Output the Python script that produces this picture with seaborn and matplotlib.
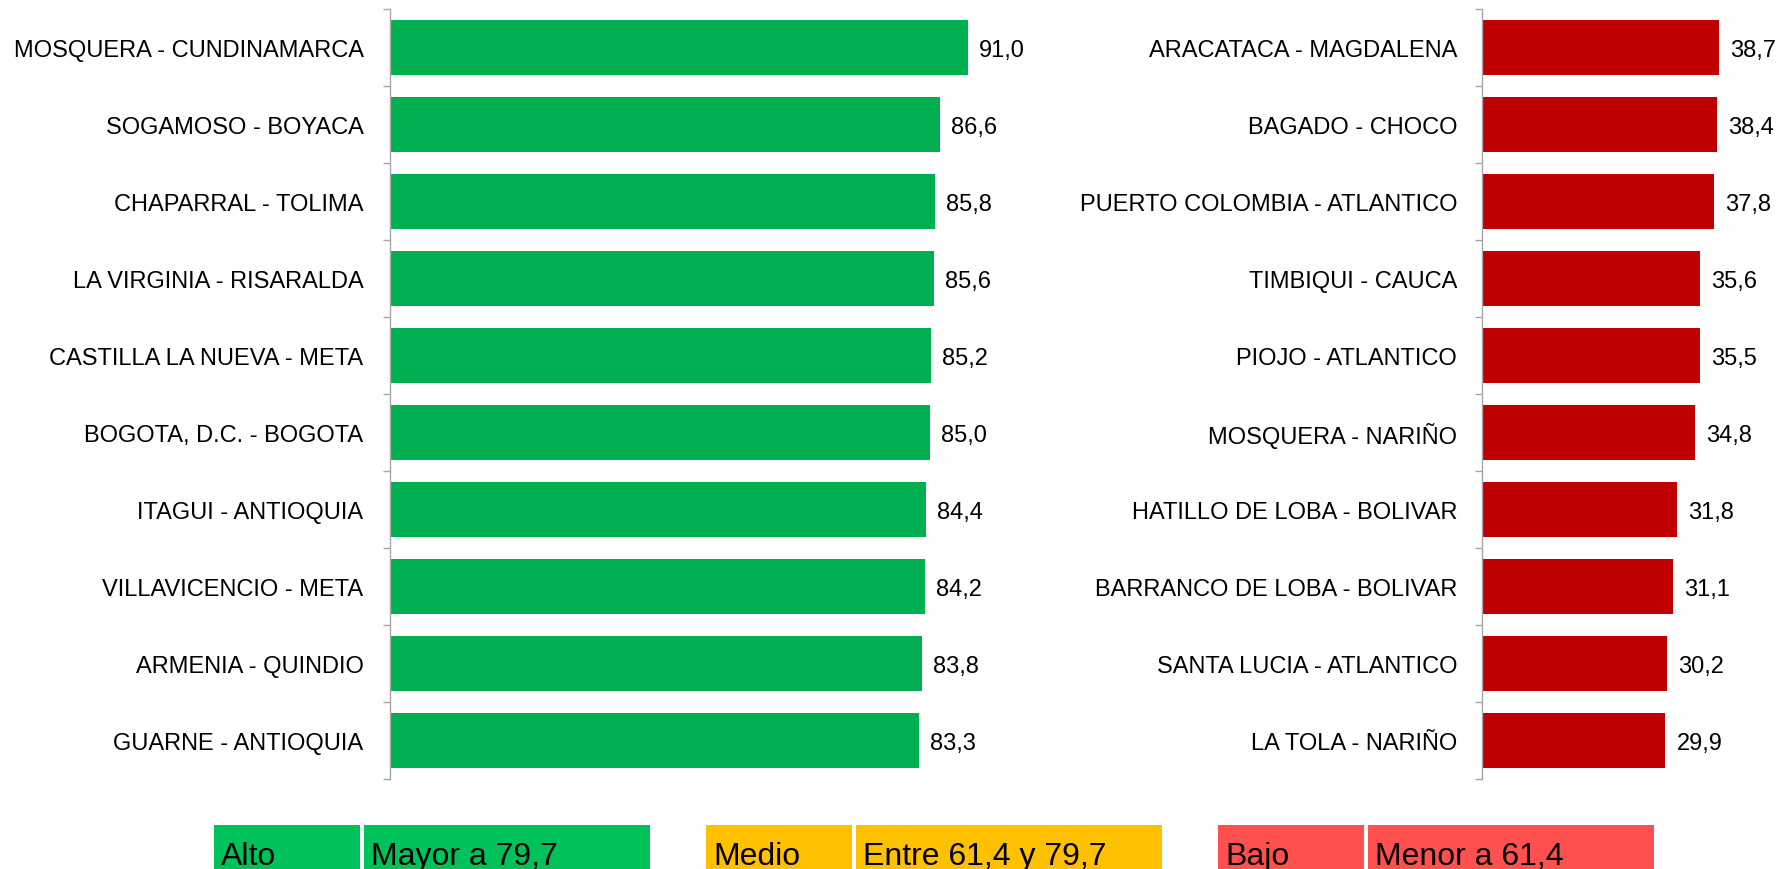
import matplotlib
matplotlib.use("Agg")
import matplotlib.pyplot as plt
import matplotlib.patches as mpatches
import seaborn as sns
import pandas as pd

# datos: municipios con mayor y menor puntaje
altos = ['MOSQUERA - CUNDINAMARCA', 'SOGAMOSO - BOYACA', 'CHAPARRAL - TOLIMA',
         'LA VIRGINIA - RISARALDA', 'CASTILLA LA NUEVA - META', 'BOGOTA, D.C. - BOGOTA',
         'ITAGUI - ANTIOQUIA', 'VILLAVICENCIO - META', 'ARMENIA - QUINDIO',
         'GUARNE - ANTIOQUIA']
valores_altos = [91.0, 86.6, 85.8, 85.6, 85.2, 85.0, 84.4, 84.2, 83.8, 83.3]

bajos = ['ARACATACA - MAGDALENA', 'BAGADO - CHOCO', 'PUERTO COLOMBIA - ATLANTICO',
         'TIMBIQUI - CAUCA', 'PIOJO - ATLANTICO', 'MOSQUERA - NARIÑO',
         'HATILLO DE LOBA - BOLIVAR', 'BARRANCO DE LOBA - BOLIVAR',
         'SANTA LUCIA - ATLANTICO', 'LA TOLA - NARIÑO']
valores_bajos = [38.7, 38.4, 37.8, 35.6, 35.5, 34.8, 31.8, 31.1, 30.2, 29.9]

niveles = ['Alto', 'Medio', 'Bajo']
rangos = ['Mayor a 79,7', 'Entre 61,4 y 79,7', 'Menor a 61,4']
colores_nivel = ['#00C25A', '#FFC000', '#FF5050']

df_alto = pd.DataFrame({'municipio': altos, 'valor': valores_altos})
df_bajo = pd.DataFrame({'municipio': bajos, 'valor': valores_bajos})

sns.set_style('white')
plt.rcParams['font.family'] = ['Liberation Sans', 'DejaVu Sans']
plt.rcParams['text.color'] = 'black'
plt.rcParams['ytick.color'] = 'black'

W, H = 1785, 870
fig = plt.figure(figsize=(W / 100, H / 100), dpi=100)

ax1 = fig.add_axes([390 / W, 1 - 780 / H, 100 * 6.35 / W, 770 / H])
ax2 = fig.add_axes([1482 / W, 1 - 780 / H, 45 * 6.13 / W, 770 / H])


def dibujar(ax, df, color, xmax, pad):
    sns.barplot(data=df, x='valor', y='municipio', orient='h', color=color,
                width=0.72, saturation=1, edgecolor='none', ax=ax)
    ax.set_xlim(0, xmax)
    ax.set_ylim(len(df) - 0.5, -0.5)
    ax.set_xlabel('')
    ax.set_ylabel('')
    ax.set_xticks([])
    for s in ['top', 'right', 'bottom']:
        ax.spines[s].set_visible(False)
    ax.spines['left'].set_color('#A6A6A6')
    ax.spines['left'].set_linewidth(1)
    ax.tick_params(axis='y', which='major', length=0, pad=pad, labelsize=17,
                   labelcolor='black')
    ax.set_yticks([i + 0.5 for i in range(-1, len(df))], minor=True)
    ax.tick_params(axis='y', which='minor', length=5, width=1, color='#A6A6A6',
                   direction='out', left=True)
    etiquetas = [f'{v:.1f}'.replace('.', ',') for v in df['valor']]
    textos = ax.bar_label(ax.containers[0], labels=etiquetas, padding=8,
                          fontsize=17, color='black')
    for t in textos:
        t.set_verticalalignment('center_baseline')


dibujar(ax1, df_alto, '#00B050', 100, 19)
dibujar(ax2, df_bajo, '#C00000', 45, 18)

# cajas de la leyenda
cajas = [(214, 360, 364, 650), (706, 852, 856, 1162), (1218, 1364, 1368, 1654)]
for (a0, a1, b0, b1), nivel, rango, c in zip(cajas, niveles, rangos, colores_nivel):
    for x0, x1, txt in [(a0, a1, nivel), (b0, b1, rango)]:
        fig.patches.append(mpatches.Rectangle((x0 / W, 0), (x1 - x0) / W, 44 / H,
                                              transform=fig.transFigure,
                                              facecolor=c, edgecolor='none'))
        fig.text((x0 + 7) / W, 1 - 865 / H, txt, fontsize=23, color='black',
                 ha='left', va='baseline')

fig.savefig('out.png', dpi=100)
